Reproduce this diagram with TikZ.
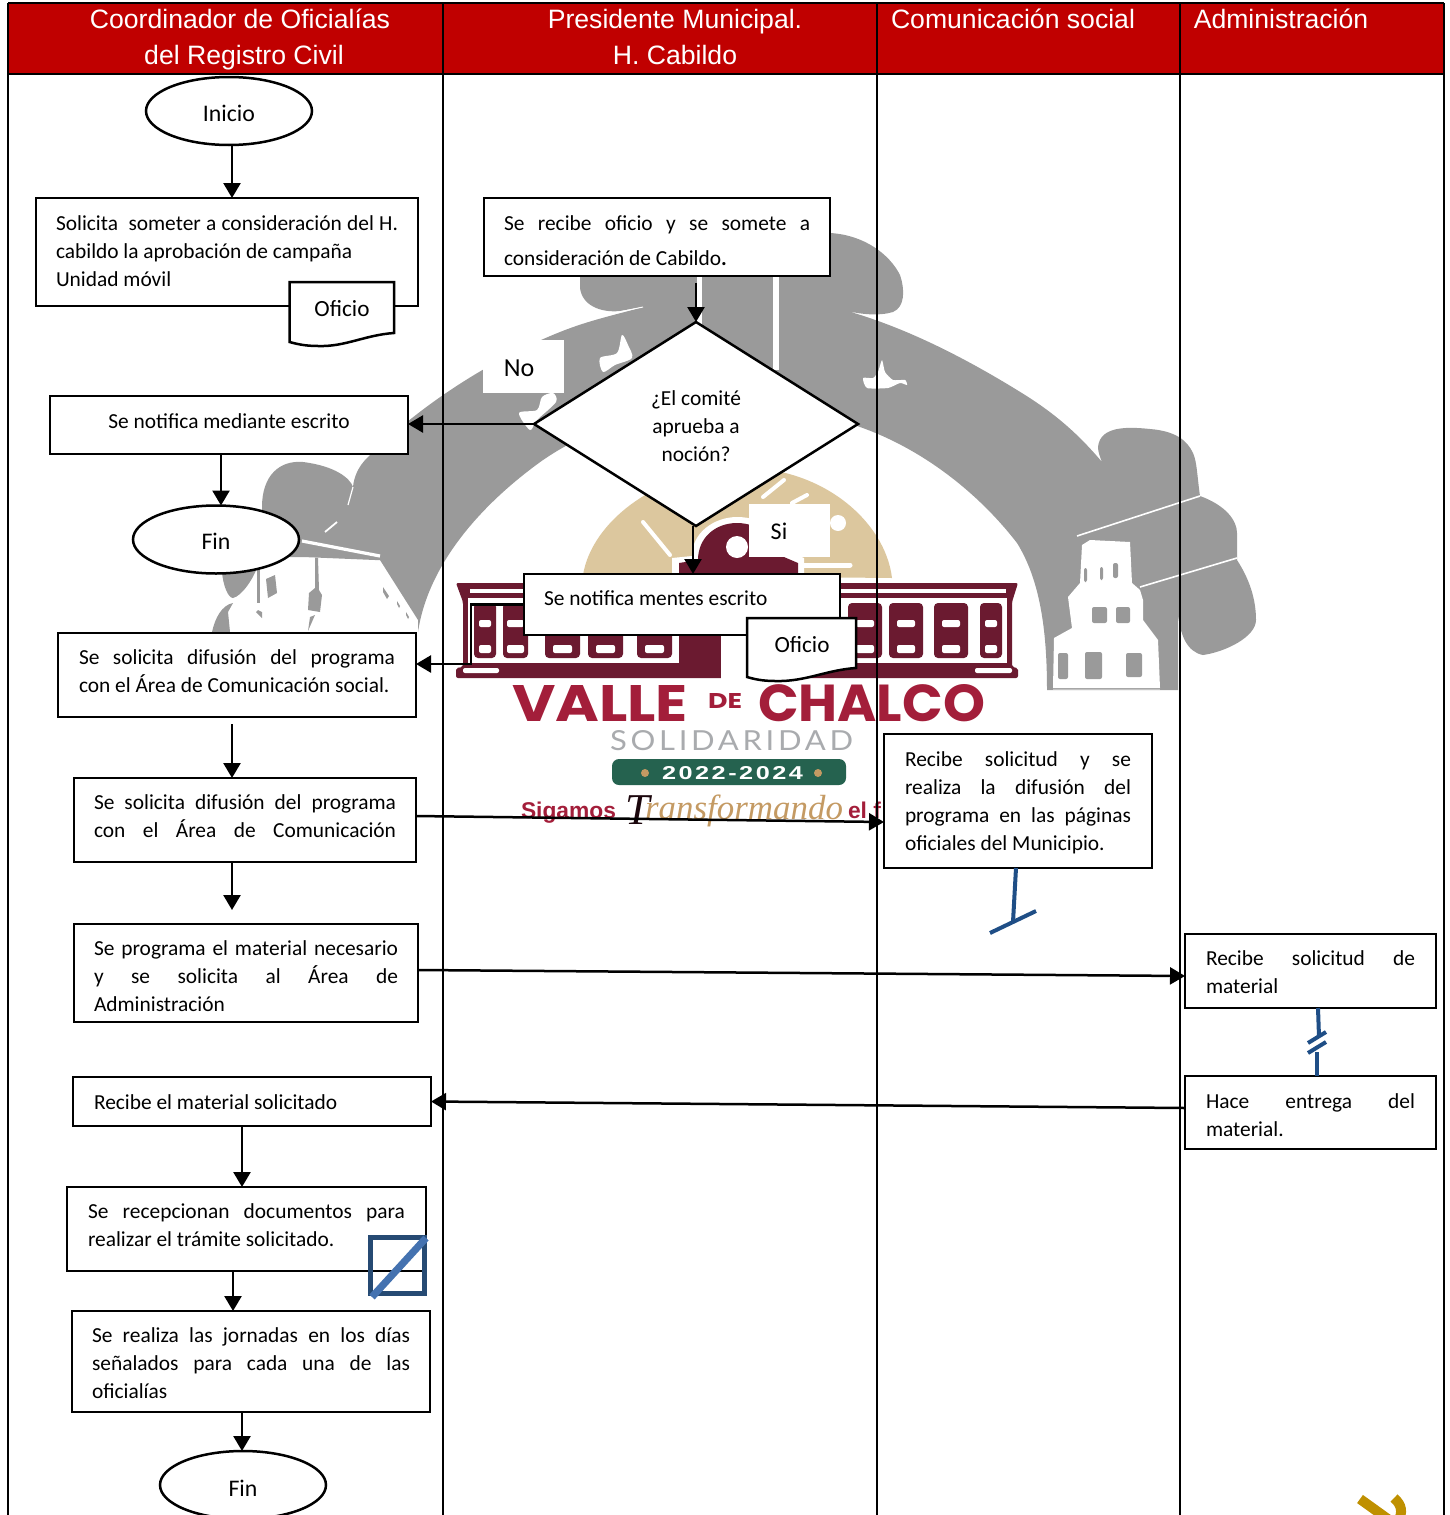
\documentclass[tikz,border=0pt]{standalone}
\usepackage{fontspec}
\setmainfont{Carlito}
\newfontfamily\headfont{Liberation Sans}
\newfontfamily\logofont{Poppins}
\newfontfamily\sloganfont{Liberation Sans}
\newfontfamily\scrfam{Liberation Serif}
\newfontfamily\lightfont{Lato}[LetterSpace=12]
\usetikzlibrary{shapes.geometric,arrows.meta}
\definecolor{hdr}{HTML}{C00000}
\definecolor{gris}{HTML}{9A9A9A}
\definecolor{solidg}{HTML}{A9ABAE}
\definecolor{tanc}{HTML}{DCC79E}
\definecolor{maroonc}{HTML}{6B1A30}
\definecolor{crimson}{HTML}{A31E3A}
\definecolor{pill}{HTML}{25624F}
\definecolor{oro}{HTML}{C49A63}
\definecolor{azul}{HTML}{1F4E86}
\definecolor{azulsq}{HTML}{264A73}
\definecolor{azuldg}{HTML}{4472B0}
\definecolor{goldc}{HTML}{BF9000}
\newcommand\bodyfont{\fontsize{10.7}{14}\selectfont}
\newcommand\jl[1]{\makebox[\hsize][s]{#1}}
\newcommand\cell[5]{\hbox to \dimexpr#1pt/2\relax{\hskip\dimexpr#3pt/2\relax\parbox[c][\dimexpr#2pt/2\relax][t]{\dimexpr#1pt/2-#3pt\relax}{\bodyfont\vskip\dimexpr#4pt/2\relax\strut#5}\hss}}
\newcommand\lowered[2]{\raisebox{-#1pt}[0pt][0pt]{#2}}
\tikzset{
  x=0.5pt,y=-0.5pt,outer sep=0pt,
  flowbox/.style={draw,fill=white,line width=1.25pt,inner sep=0pt,anchor=north west},
  term/.style={draw,fill=white,ellipse,line width=1.25pt,inner sep=0pt,minimum width=83pt,minimum height=34pt,font=\fontsize{11.9}{14}\selectfont},
  arr/.style={line width=1.25pt,-{Triangle[length=7.5pt,width=8.5pt]}},
  hdrtext/.style={text=white,font=\headfont\fontsize{13.3}{18}\selectfont,align=center,inner sep=0pt},
  tabline/.style={line width=1pt,black},
  bluemark/.style={azul,line width=2pt},
  lblbox/.style={draw=none,fill=white,inner sep=0pt,minimum width=40.5pt,minimum height=26.5pt},
  docshape/.style={draw,fill=white,line width=1.25pt},
  doctext/.style={inner sep=0pt,font=\fontsize{11.6}{14}\selectfont}
}
\begin{document}
\begin{tikzpicture}
\useasboundingbox (0,0) rectangle (1450,1515);
\clip (0,0) rectangle (1450,1515);
% ---------- grey arch
\fill[gris] (418,632) .. controls (428,565) and (480,505) .. (543,460)
 .. controls (590,428) and (645,410) .. (700,405)
 .. controls (755,401) and (810,408) .. (860,427)
 .. controls (925,450) and (980,495) .. (1017,543)
 .. controls (1040,580) and (1047,630) .. (1047,690)
 -- (1178,690) -- (1178,613)
 .. controls (1180,635) and (1187,652) .. (1203,655)
 .. controls (1225,652) and (1256,637) .. (1256,620)
 .. controls (1256,600) and (1250,580) .. (1237,560)
 -- (1237,533)
 .. controls (1237,520) and (1225,505) .. (1200,496)
 .. controls (1197,475) and (1197,462) .. (1193,453)
 .. controls (1187,440) and (1175,431) .. (1150,429)
 .. controls (1130,427) and (1100,425) .. (1098,447)
 .. controls (1098,452) and (1100,457) .. (1102,462)
 .. controls (1075,430) and (1050,410) .. (1017,390)
 .. controls (960,355) and (900,325) .. (840,309)
 .. controls (860,315) and (880,316) .. (893,312)
 .. controls (905,307) and (905,290) .. (900,275)
 .. controls (890,255) and (865,235) .. (830,233)
 -- (830,277) -- (580,277) -- (580,288)
 .. controls (582,305) and (600,313) .. (620,311)
 -- (643,307)
 .. controls (615,315) and (590,320) .. (560,332)
 .. controls (490,360) and (420,405) .. (367,458)
 .. controls (358,467) and (354,477) .. (353,487)
 .. controls (350,478) and (335,466) .. (303,462)
 .. controls (280,460) and (262,475) .. (262,507)
 -- (262,530) -- (290,557) -- (303,557) -- (375,560) -- (380,560) -- (418,620) -- cycle;
\fill[gris] (222,560) -- (222,572) .. controls (223,585) and (228,598) .. (233,598) .. controls (242,596) and (254,578) .. (258,565) -- cycle;
\fill[gris] (212,632) .. controls (215,618) and (222,605) .. (233,603) -- (228,612) -- (230,632) -- cycle;
\fill[gris] (257,565) -- (260,565) -- (260,603) -- (257,603) -- cycle;
\fill[gris] (258,610) -- (262,612) -- (262,618) -- (256,612) -- cycle;
\fill[gris] (266,579) -- (275,575) -- (277,593) -- (268,598) -- cycle;
\fill[gris] (315,558) -- (318,558) -- (319,590) -- (322,595) -- (320,612) -- (308,610) -- (309,593) -- (315,588) -- cycle;
\fill[gris] (310,617) -- (315,615) -- (308,631) -- cycle;
\fill[gris] (383,587) -- (389,596) -- (387,599) -- (383,592) -- cycle;
\fill[gris] (397,601) -- (400,606) -- (399,608) -- (397,604) -- cycle;
\fill[gris] (406,612) -- (409,617) -- (408,619) -- (406,615) -- cycle;
% white details in the grey
\draw[white,line width=1.6pt] (302,541) -- (380,556);
\draw[white,line width=.9pt] (325,532) -- (337,522);
\draw[white,line width=.6pt] (353,487) -- (348,505);
\fill[white] (697,277) rectangle (702,325);
\fill[white] (773,277) rectangle (779,370);
\draw[white,line width=.8pt] (1200,496) -- (1077,536);
\draw[white,line width=.8pt] (1237,558) -- (1140,587);
\draw[white,line width=.5pt] (600,316) -- (643,307);
% doves
\fill[white] plot[smooth cycle] coordinates {(600,358)(603,372)(615,365)(632,358)(628,345)(622,335)(617,353)};
\fill[white] plot[smooth cycle,tension=.35] coordinates {(863,378)(867,388)(888,388)(900,383)(907,385)(905,380)(893,380)(885,372)(882,360)(878,372)(873,378)};
\fill[white] plot[smooth cycle] coordinates {(519,413)(530,430)(537,420)(556,402)(553,393)(542,397)(537,410)};
% white tower
\fill[white] (1082,545) -- (1090,540) -- (1130,542) -- (1132,583) -- (1140,590) -- (1143,600) -- (1143,620) -- (1158,640) -- (1160,688) -- (1053,688) -- (1054,638) -- (1072,628) -- (1068,597) -- (1080,583) -- cycle;
\fill[gris,rounded corners=1pt] (1084,568) rectangle (1087,582);
\fill[gris,rounded corners=1pt] (1100,567) rectangle (1103,580);
\fill[gris,rounded corners=1pt] (1113,563) rectangle (1118,578);
\fill[gris,rounded corners=1pt] (1092,607) rectangle (1107,623);
\fill[gris,rounded corners=1pt] (1116,607) rectangle (1130,623);
\fill[gris,rounded corners=1pt] (1058,653) rectangle (1068,679);
\fill[gris,rounded corners=1pt] (1085,652) rectangle (1102,679);
\fill[gris,rounded corners=1pt] (1126,653) rectangle (1142,677);
\draw[gris!60,line width=.4pt] (1053,689) -- (1160,689);
% ---------- tan dome
\fill[tanc] (583,575) .. controls (592,520) and (660,470) .. (740,468) .. controls (820,466) and (885,520) .. (892,578) -- cycle;
\draw[white,line width=2pt,line cap=round] (643,522) -- (670,555);
\draw[white,line width=2pt,line cap=round] (763,497) -- (784,480);
\draw[white,line width=2pt,line cap=round] (792,503) -- (807,495);
\draw[white,line width=2.5pt,line cap=round] (800,565) -- (850,565);
\fill[white] (838,523) circle (8);
% ---------- building
\fill[white] (672,575) -- (672,558) -- (692,556) .. controls (692,532) and (715,517) .. (737,517) .. controls (765,517) and (785,535) .. (790,552) -- (804,558) -- (804,575) -- cycle;
\fill[maroonc] (679,575) -- (679,563) -- (698,560) .. controls (698,538) and (715,523) .. (737,523) .. controls (760,523) and (780,540) .. (784,557) -- (798,563) -- (798,575) -- cycle;
\fill[white] (737,547) circle (11);
\fill[maroonc,rounded corners=1pt] (456,583) -- (1018,583) -- (1012,602) -- (1012,667) -- (1018,668) -- (1018,678) -- (456,678) -- (456,668) -- (463,667) -- (463,602) -- cycle;
\fill[white] (470,589) rectangle (1006,593);
\fill[white] (468,598) rectangle (1007,663);
\fill[white,rounded corners=1pt] (463,668) rectangle (499,673);
\fill[white,rounded corners=1pt] (975,668) rectangle (1012,673);
\fill[maroonc] (679,573) rectangle (721,678);
\fill[white] (721,663) rectangle (790,680);
\foreach \a/\b/\wl/\wr in {474/496/479/491,503/528/507/524,545/580/553/572,588/623/596/615,637/672/645/664,848/882/856/874,889/923/897/915,934/968/942/960,980/1002/985/997}{
  \fill[maroonc,rounded corners=2pt] (\a,603) rectangle (\b,658);
  \fill[white,rounded corners=1pt] (\wl,620) rectangle (\wr,627);
  \fill[white,rounded corners=1pt] (\wl,645) rectangle (\wr,653);
}
% ---------- logo lettering
\node[anchor=base west,inner sep=0pt,text=crimson] (valle) at (512,721) {\resizebox{88pt}{18pt}{\logofont\bfseries VALLE}};
\node[anchor=base west,inner sep=0pt,text=crimson] (de) at (708,708) {\resizebox{17pt}{7.5pt}{\logofont\bfseries DE}};
\node[anchor=base west,inner sep=0pt,text=crimson] (chalco) at (758,721) {\resizebox{113.5pt}{18.5pt}{\logofont\bfseries CHALCO}};
\node[anchor=base west,inner sep=0pt,text=solidg] (solid) at (610,750) {\resizebox{121.5pt}{10pt}{\lightfont SOLIDARIDAD}};
\fill[pill,rounded corners=3.5pt] (612,759) rectangle (846,785);
\fill[oro] (645,773) circle (4);
\fill[oro] (818,773) circle (4);
\node[anchor=base west,inner sep=0pt,text=white] (anios) at (662,779) {\resizebox{70.5pt}{6.5pt}{\sloganfont\bfseries\addfontfeature{LetterSpace=10}2022-2024}};
\node[anchor=base west,inner sep=0pt,text=crimson,font=\sloganfont\bfseries\fontsize{11.4}{14}\selectfont] (sig) at (521,818) {Sigamos};
\node[anchor=base west,inner sep=0pt,text=black!75!maroonc,font=\scrfam\itshape\fontsize{22}{24}\selectfont] (tt) at (625,824) {T};
\node[anchor=base west,inner sep=0pt,text=oro] (transf) at (645,819) {\resizebox{99pt}{!}{\scrfam\itshape ransformando}};
\node[anchor=base west,inner sep=0pt,text=crimson,font=\sloganfont\bfseries\fontsize{11.4}{14}\selectfont] (elf) at (848,818) {el f};
% ---------- table
\fill[hdr] (8,3) rectangle (1444,74);
\foreach \xx in {8,443,877,1180,1444}{\draw[tabline] (\xx,3) -- (\xx,1515);}
\draw[tabline] (8,3) -- (1444,3);
\draw[tabline] (8,74) -- (1444,74);
\node[hdrtext] (h1) at (240,39.5) {Coordinador de Oficialías\\\hspace*{4pt}del Registro Civil};
\node[hdrtext] (h2) at (675,37) {Presidente Municipal.\\H. Cabildo};
\node[hdrtext] (h3) at (1013,19) {Comunicación social};
\node[hdrtext] (h4) at (1281,19) {Administración};
% ---------- nodes
\node[term] (inicio) at (229,111) {\lowered{5.5}{Inicio}};
\node[flowbox] (b1) at (36,198) {\cell{382}{108}{20}{12.4}{\jl{Solicita\ \ someter a consideración del H.}\\cabildo la aprobación de campaña\\Unidad móvil}};
\draw[docshape] (289.5,282) -- (394,282) -- (394,333) .. controls (365,335) and (345,347) .. (318,346) .. controls (305,346) and (297,344) .. (289.5,342) -- cycle;
\node[doctext] (of1) at (342,309) {Oficio};
\node[flowbox] (b2) at (484,198) {\cell{346}{78}{20}{12.4}{\jl{Se recibe oficio y se somete a}\\[3.5pt]consideración de Cabildo\textbf{.}}};
\node[draw,fill=white,diamond,aspect=1.588,line width=1.25pt,inner sep=0pt,minimum width=162pt,minimum height=102pt] (dec) at (696,424) {\parbox{70pt}{\bodyfont\centering\vspace*{2pt}¿El comité\\aprueba a\\noción?}};
\node[lblbox,font=\fontsize{13}{14}\selectfont] (no) at (523.5,366.5) {\hspace*{-4.5pt}\lowered{5.2}{No}};
\node[lblbox,font=\fontsize{12}{14}\selectfont] (si) at (789.5,530.5) {\hspace*{-10.5pt}\lowered{4.6}{Si}};
\node[flowbox] (b3) at (50,396) {\cell{358}{58}{20}{12.4}{\centering Se notifica mediante escrito}};
\node[term] (fin1) at (216,539.5) {\lowered{5}{Fin}};
\node[flowbox] (b4) at (524,574) {\cell{316}{61}{20}{11.4}{Se notifica mentes escrito}};
\draw[docshape] (747,618) -- (856,618) -- (856,668) .. controls (826,670) and (805,682) .. (775,681) .. controls (762,681) and (754,679) .. (747,677) -- cycle;
\node[doctext] (of2) at (802,645) {Oficio};
\node[flowbox] (b5) at (58,633) {\cell{358}{84}{21}{11.4}{\jl{Se solicita difusión del programa}\\con el Área de Comunicación social.}};
\node[flowbox] (b6) at (74,778) {\cell{342}{84}{20}{11.4}{\jl{Se solicita difusión del programa}\\\jl{con el Área de Comunicación}}};
\node[flowbox] (b7) at (74,924) {\cell{344}{98}{20}{11.4}{\jl{Se programa el material necesario}\\\jl{y se solicita al Área de}\\Administración}};
\node[flowbox] (b8) at (73,1077) {\cell{358}{49}{21}{12.4}{Recibe el material solicitado}};
\node[flowbox] (b9) at (67,1187) {\cell{359}{84}{21}{11.4}{\jl{Se recepcionan documentos para}\\realizar el trámite solicitado.}};
\node[flowbox] (b10) at (72,1311) {\cell{358}{101}{20}{11.4}{\jl{Se realiza las jornadas en los días}\\\jl{señalados para cada una de las}\\oficialías}};
\node[term] (fin2) at (243,1485) {\lowered{5.5}{Fin}};
\node[flowbox] (b11) at (884,734) {\cell{268}{134}{21}{12.4}{\jl{Recibe solicitud y se}\\\jl{realiza la difusión del}\\\jl{programa en las páginas}\\oficiales del Municipio.}};
\node[flowbox] (b12) at (1185,934) {\cell{251}{74}{21}{11.4}{\jl{Recibe solicitud de}\\material}};
\node[flowbox] (b13) at (1185,1076) {\cell{251}{73}{21}{12.4}{\jl{Hace entrega del}\\material.}};
% ---------- connectors
\coordinate (c2) at (696,283);
\coordinate (c5) at (232,724);
\coordinate (c6) at (232,910);
\draw[arr] (232,0 |- inicio.south) -- (232,0 |- b1.north);
\draw[arr] (c2) -- (dec.north);
\draw[arr] (dec.west) -- (b3.east |- dec.west);
\draw[arr] (221,0 |- b3.south) -- (221,0 |- fin1.north);
\draw[arr] (693,0 |- dec.south) -- (693,0 |- b4.north);
\draw[arr] (b4.west) -- (471,604.5) -- (471,664) -- (b5.east |- 471,664);
\draw[arr] (c5) -- (232,0 |- b6.north);
\draw[arr] (232,0 |- b6.south) -- (c6);
\draw[arr] ([yshift=2pt]b6.east) -- ([yshift=-10.5pt]b11.west);
\draw[arr] ([yshift=1.5pt]b7.east) -- ([yshift=-2.5pt]b12.west);
\draw[arr] ([yshift=2.25pt]b13.west) -- (b8.east);
\draw[arr] (242,0 |- b8.south) -- (242,0 |- b9.north);
\draw[arr] (233,0 |- b9.south) -- (233,0 |- b10.north);
\draw[arr] (242,0 |- b10.south) -- (242,0 |- fin2.north);
% ---------- blue marks
\coordinate (t1a) at (990,933);
\coordinate (t1b) at (1036,911);
\draw[bluemark] (1016,0 |- b11.south) -- (1013,922);
\draw[bluemark] (t1a) -- (t1b);
\draw[bluemark] (1318,0 |- b12.south) -- (1319,1037);
\draw[bluemark] (1317,1052) -- (1317,0 |- b13.north);
\draw[bluemark] (1308,1043) -- (1326,1032);
\draw[bluemark] (1308,1053) -- (1326,1042);
% ---------- square mark
\draw[azulsq,line width=2.5pt] (370.5,1237.5) rectangle (424.5,1293.5);
\draw[azuldg,line width=3.6pt] (372,1297) -- (426,1238);
% ---------- corner mark
\draw[goldc,line width=5pt] (1360,1499) -- (1392,1522);
\draw[goldc,line width=5pt] (1394,1498) .. controls (1402,1505) and (1403,1512) .. (1398,1522);
\end{tikzpicture}
\end{document}
